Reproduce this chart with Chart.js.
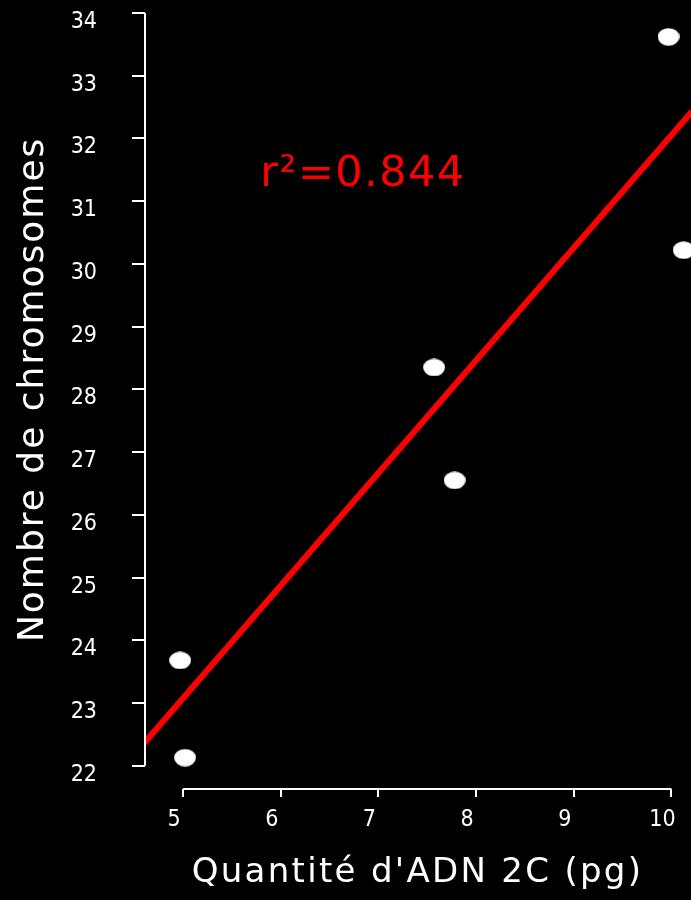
<!DOCTYPE html>
<html>
<head>
<meta charset="utf-8">
<script src="https://cdn.jsdelivr.net/npm/chart.js@4"></script>
<style>
  html, body { margin: 0; padding: 0; background: #000; }
  #wrap { width: 691px; height: 900px; }
</style>
</head>
<body>
<div id="wrap"><canvas id="c" width="691" height="900"></canvas></div>
<script>
// Data
const dnaAmount = [4.97, 5.02, 7.57, 7.78, 9.97, 10.125];
const chromosomeCount = [23.68, 22.13, 28.35, 26.55, 33.62, 30.22];
// Regression line end points
const fitX = [4.6, 10.21];
const fitY = [22.36, 32.43];
const xTicks = [5, 6, 7, 8, 9, 10];
const yTicks = [22, 23, 24, 25, 26, 27, 28, 29, 30, 31, 32, 33, 34];
const r2Label = 'r²=0.844';
const xTitle = "Quantité d'ADN 2C (pg)";
const yTitle = 'Nombre de chromosomes';

// ellipse marker
const marker = document.createElement('canvas');
marker.width = 22; marker.height = 18;
{
  const m = marker.getContext('2d');
  m.fillStyle = '#fff';
  m.beginPath();
  m.ellipse(11, 9, 10.9, 8.7, 0, 0, Math.PI * 2);
  m.fill();
}

const FONT = "'DejaVu Sans', sans-serif";
const TICKFONT = "'DejaVu Sans Condensed', 'DejaVu Sans', sans-serif";

const decorations = {
  id: 'decorations',
  afterDraw(chart) {
    const ctx = chart.ctx;
    const xs = chart.scales.x, ys = chart.scales.y;
    const area = chart.chartArea;
    ctx.save();
    ctx.strokeStyle = '#fff';
    ctx.lineWidth = 2;
    // x axis line from first to last tick
    ctx.beginPath();
    ctx.moveTo(xs.getPixelForValue(xTicks[0]), area.bottom);
    ctx.lineTo(xs.getPixelForValue(xTicks[xTicks.length - 1]), area.bottom);
    ctx.stroke();
    ctx.beginPath();
    ctx.moveTo(area.left, ys.getPixelForValue(yTicks[0]));
    ctx.lineTo(area.left, ys.getPixelForValue(yTicks[yTicks.length - 1]));
    ctx.stroke();
    // axis titles
    ctx.fillStyle = '#fff';
    ctx.textAlign = 'center';
    ctx.textBaseline = 'middle';
    ctx.font = "34px " + FONT;
    ctx.letterSpacing = '2.3px';
    ctx.fillText(xTitle, xs.getPixelForValue(7.4), 873);
    ctx.save();
    ctx.translate(34, ys.getPixelForValue(28.0));
    ctx.rotate(-Math.PI / 2);
    ctx.font = "36px " + FONT;
    ctx.letterSpacing = '2px';
    ctx.fillText(yTitle, 0, 0);
    ctx.restore();
    // r² label
    ctx.fillStyle = '#ff0000';
    ctx.font = "43px " + FONT;
    ctx.letterSpacing = '1.4px';
    ctx.fillText(r2Label, xs.getPixelForValue(6.84), ys.getPixelForValue(31.42));
    ctx.restore();
  }
};

new Chart(document.getElementById('c'), {
  type: 'scatter',
  data: {
    datasets: [
      {
        label: 'fit',
        type: 'line',
        data: fitX.map((x, i) => ({ x, y: fitY[i] })),
        borderColor: '#ff0000',
        borderWidth: 6,
        pointRadius: 0,
        fill: false,
        order: 2
      },
      {
        label: 'points',
        data: dnaAmount.map((x, i) => ({ x, y: chromosomeCount[i] })),
        pointStyle: marker,
        pointRadius: 10,
        order: 1
      }
    ]
  },
  options: {
    responsive: false,
    animation: false,
    devicePixelRatio: 1,
    layout: { autoPadding: false, padding: { top: 8, right: 0, left: 0, bottom: 0 } },
    plugins: { legend: { display: false }, tooltip: { enabled: false } },
    scales: {
      x: {
        type: 'linear',
        min: 4.61,
        max: 10.2,
        afterBuildTicks: (s) => { s.ticks = xTicks.map(v => ({ value: v })); },
        afterFit: (s) => { s.height = 111; s.paddingLeft = 0; s.paddingRight = 0; },
        border: { display: false },
        grid: { display: true, drawOnChartArea: false, drawTicks: true, tickLength: 8, color: '#fff', lineWidth: 2 },
        ticks: { color: '#fff', font: { family: TICKFONT, size: 23 }, padding: 9, labelOffset: -9, maxRotation: 0, autoSkip: false },
        title: { display: false, text: xTitle }
      },
      y: {
        type: 'linear',
        min: 21.63,
        max: 34.08,
        afterBuildTicks: (s) => { s.ticks = yTicks.map(v => ({ value: v })); },
        afterFit: (s) => { s.width = 145; s.paddingTop = 0; s.paddingBottom = 0; },
        border: { display: false },
        grid: { display: true, drawOnChartArea: false, drawTicks: true, tickLength: 13, color: '#fff', lineWidth: 2 },
        ticks: { color: '#fff', font: { family: TICKFONT, size: 23 }, padding: 35, labelOffset: 9, autoSkip: false },
        title: { display: false, text: yTitle }
      }
    }
  },
  plugins: [decorations]
});
</script>
</body>
</html>
